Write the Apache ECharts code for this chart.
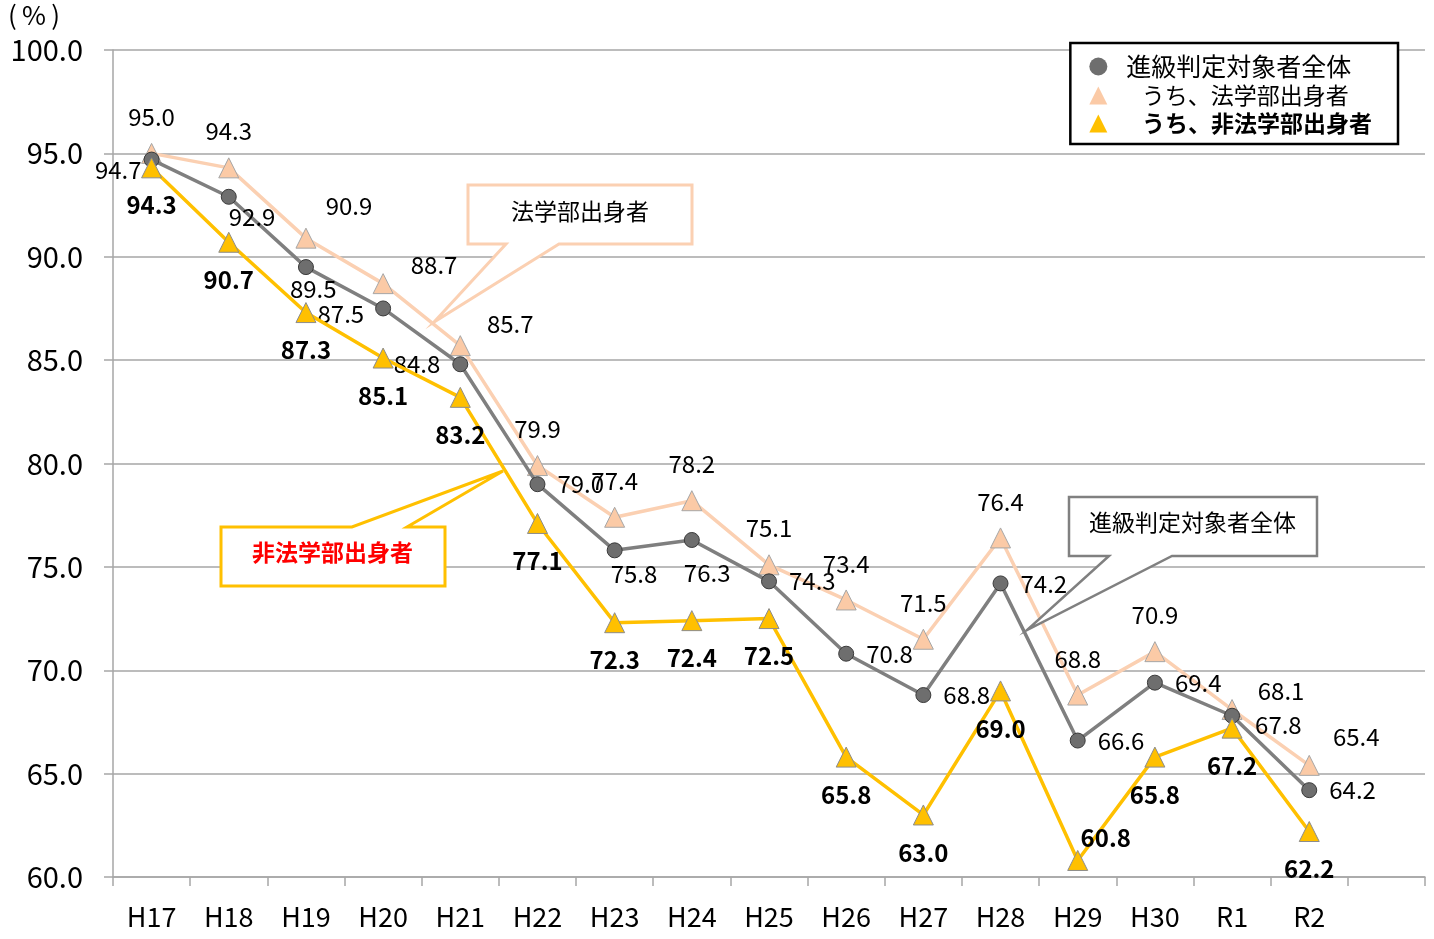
<!DOCTYPE html>
<html>
<head>
<meta charset="utf-8">
<script src="https://cdn.jsdelivr.net/npm/echarts@6/dist/echarts.min.js"></script>
<style>
  html, body { margin: 0; padding: 0; background: #fff; }
  #chart { width: 1434px; height: 939px; }
</style>
</head>
<body>
<div id="chart"></div>
<script>
// fiscal years (last slot is left empty, like the original sheet)
const years = ['H17', 'H18', 'H19', 'H20', 'H21', 'H22', 'H23', 'H24', 'H25', 'H26', 'H27', 'H28', 'H29', 'H30', 'R1', 'R2', '']
const seriesNames = ['進級判定対象者全体', 'うち、法学部出身者', 'うち、非法学部出身者']
const allRate = [94.7, 92.9, 89.5, 87.5, 84.8, 79.0, 75.8, 76.3, 74.3, 70.8, 68.8, 74.2, 66.6, 69.4, 67.8, 64.2]
const lawRate = [95.0, 94.3, 90.9, 88.7, 85.7, 79.9, 77.4, 78.2, 75.1, 73.4, 71.5, 76.4, 68.8, 70.9, 68.1, 65.4]
const nonLawRate = [94.3, 90.7, 87.3, 85.1, 83.2, 77.1, 72.3, 72.4, 72.5, 65.8, 63.0, 69.0, 60.8, 65.8, 67.2, 62.2]
const yTicks = [60, 65, 70, 75, 80, 85, 90, 95, 100]

const FONT = '"Noto Sans CJK JP", "Noto Sans", sans-serif'

// label nudges, by index (moved by hand in the original)
const allLabelPos = { 0: 'left', 3: 'left', 4: 'left' }
const allLabelOffset = { 0: [10, 10], 1: [-20, 20], 2: [-36, 22], 3: [1, 5], 6: [-24, 24], 7: [-28, 33], 14: [3, 9] }
const lawLabelOffset = { 2: [43, 4], 3: [51, 18], 4: [50, 15], 14: [49, 18], 15: [47, 8] }
const nonLawLabelOffset = { 12: [28, 15] }

function withLabels (values, pos, offsets) {
  return values.map((v, i) => {
    const item = { value: v, label: {} }
    if (pos && pos[i]) item.label.position = pos[i]
    if (offsets[i]) item.label.offset = offsets[i]
    return item
  })
}

const nonLawItems = withLabels(nonLawRate, {}, nonLawLabelOffset)
nonLawItems[12].label.position = 'top'

let myChart = echarts.init(document.getElementById('chart'))

let option = {
  animation: false,
  backgroundColor: '#fff',
  textStyle: { fontFamily: FONT },
  grid: { left: 113, right: 9, top: 50, bottom: 62, containLabel: false, outerBoundsMode: 'none' },
  legend: {
    right: 36, top: 43,
    orient: 'vertical',
    backgroundColor: '#fff',
    borderColor: '#000', borderWidth: 2.5,
    padding: [11, 26, 9, 19],
    itemGap: 5,
    itemWidth: 18, itemHeight: 18,
    textStyle: { fontSize: 23, color: '#000', fontFamily: FONT, padding: [0, 0, 0, 14] },
    itemStyle: { borderWidth: 0 },
    data: [
      { name: seriesNames[0], icon: 'circle', textStyle: { fontSize: 25 } },
      { name: seriesNames[1], icon: 'triangle' },
      { name: seriesNames[2], icon: 'triangle', textStyle: { fontWeight: 'bold' } }
    ],
    formatter: name => name === seriesNames[0] ? name : '   ' + name
  },
  xAxis: {
    type: 'category',
    data: years,
    boundaryGap: true,
    axisLine: { lineStyle: { color: '#a6a6a6', width: 1.5 } },
    axisTick: { show: true, length: 9, lineStyle: { color: '#a6a6a6', width: 1.5 } },
    axisLabel: { fontSize: 27, color: '#000', margin: 26, interval: 0 },
    splitLine: { show: false }
  },
  yAxis: {
    type: 'value',
    min: yTicks[0], max: yTicks[yTicks.length - 1], interval: 5,
    axisLine: { show: true, lineStyle: { color: '#a6a6a6', width: 1.5 } },
    axisTick: { show: true, length: 9, lineStyle: { color: '#a6a6a6', width: 1.5 } },
    axisLabel: { fontSize: 29, color: '#000', margin: 30, formatter: v => v.toFixed(1) },
    splitLine: { lineStyle: { color: '#a6a6a6', width: 1.5 } }
  },
  series: [
    {
      name: seriesNames[1],
      type: 'line',
      data: withLabels(lawRate, {}, lawLabelOffset),
      symbol: 'triangle', symbolSize: 20,
      lineStyle: { color: '#fbd0b2', width: 3.5 },
      itemStyle: { color: '#fbcaa6', borderColor: '#a6a6a6', borderWidth: 1 },
      label: {
        show: true, position: 'top', distance: 14,
        fontSize: 24, color: '#000', fontFamily: FONT,
        formatter: p => p.value.toFixed(1)
      },
      z: 2
    },
    {
      name: seriesNames[0],
      type: 'line',
      data: withLabels(allRate, allLabelPos, allLabelOffset),
      symbol: 'circle', symbolSize: 15,
      lineStyle: { color: '#7f7f7f', width: 3.5 },
      itemStyle: { color: '#6e6e6e', borderColor: '#3a3a3a', borderWidth: 1 },
      label: {
        show: true, position: 'right', distance: 12,
        fontSize: 24, color: '#000', fontFamily: FONT,
        formatter: p => p.value.toFixed(1)
      },
      z: 3
    },
    {
      name: seriesNames[2],
      type: 'line',
      data: nonLawItems,
      symbol: 'triangle', symbolSize: 20,
      lineStyle: { color: '#ffc000', width: 3.5 },
      itemStyle: { color: '#ffc000', borderColor: '#8c8c8c', borderWidth: 1 },
      label: {
        show: true, position: 'bottom', distance: 15,
        fontSize: 24, fontWeight: 'bold', color: '#000', fontFamily: FONT,
        formatter: p => p.value.toFixed(1)
      },
      z: 4
    }
  ],
  graphic: [
    // unit label
    {
      type: 'text', left: 8, top: 2,
      style: { text: '(\u2009%\u2009)', fontSize: 26, fill: '#000', fontFamily: FONT }
    },
    // callout: 法学部出身者
    {
      type: 'polygon', z: 10,
      shape: { points: [[468, 185], [692, 185], [692, 244], [559, 244], [434, 322], [506, 244], [468, 244]] },
      style: { fill: '#fff', stroke: '#fbd0b2', lineWidth: 3 }
    },
    {
      type: 'text', z: 11, left: 511, top: 200,
      style: { text: '法学部出身者', fontSize: 23, fill: '#000', fontFamily: FONT }
    },
    // callout: 非法学部出身者
    {
      type: 'polygon', z: 10,
      shape: { points: [[221, 527], [352, 527], [503, 471], [407, 527], [445, 527], [445, 586], [221, 586]] },
      style: { fill: '#fff', stroke: '#ffc000', lineWidth: 3 }
    },
    {
      type: 'text', z: 11, left: 252, top: 541,
      style: { text: '非法学部出身者', fontSize: 23, fontWeight: 'bold', fill: '#ff0000', fontFamily: FONT }
    },
    // callout: 進級判定対象者全体
    {
      type: 'polygon', z: 10,
      shape: { points: [[1069, 497], [1317, 497], [1317, 556], [1172, 556], [1027, 630], [1109, 556], [1069, 556]] },
      style: { fill: '#fff', stroke: '#808080', lineWidth: 2.5 }
    },
    {
      type: 'text', z: 11, left: 1089, top: 511,
      style: { text: '進級判定対象者全体', fontSize: 23, fill: '#000', fontFamily: FONT }
    }
  ]
}

myChart.setOption(option)
</script>
</body>
</html>
